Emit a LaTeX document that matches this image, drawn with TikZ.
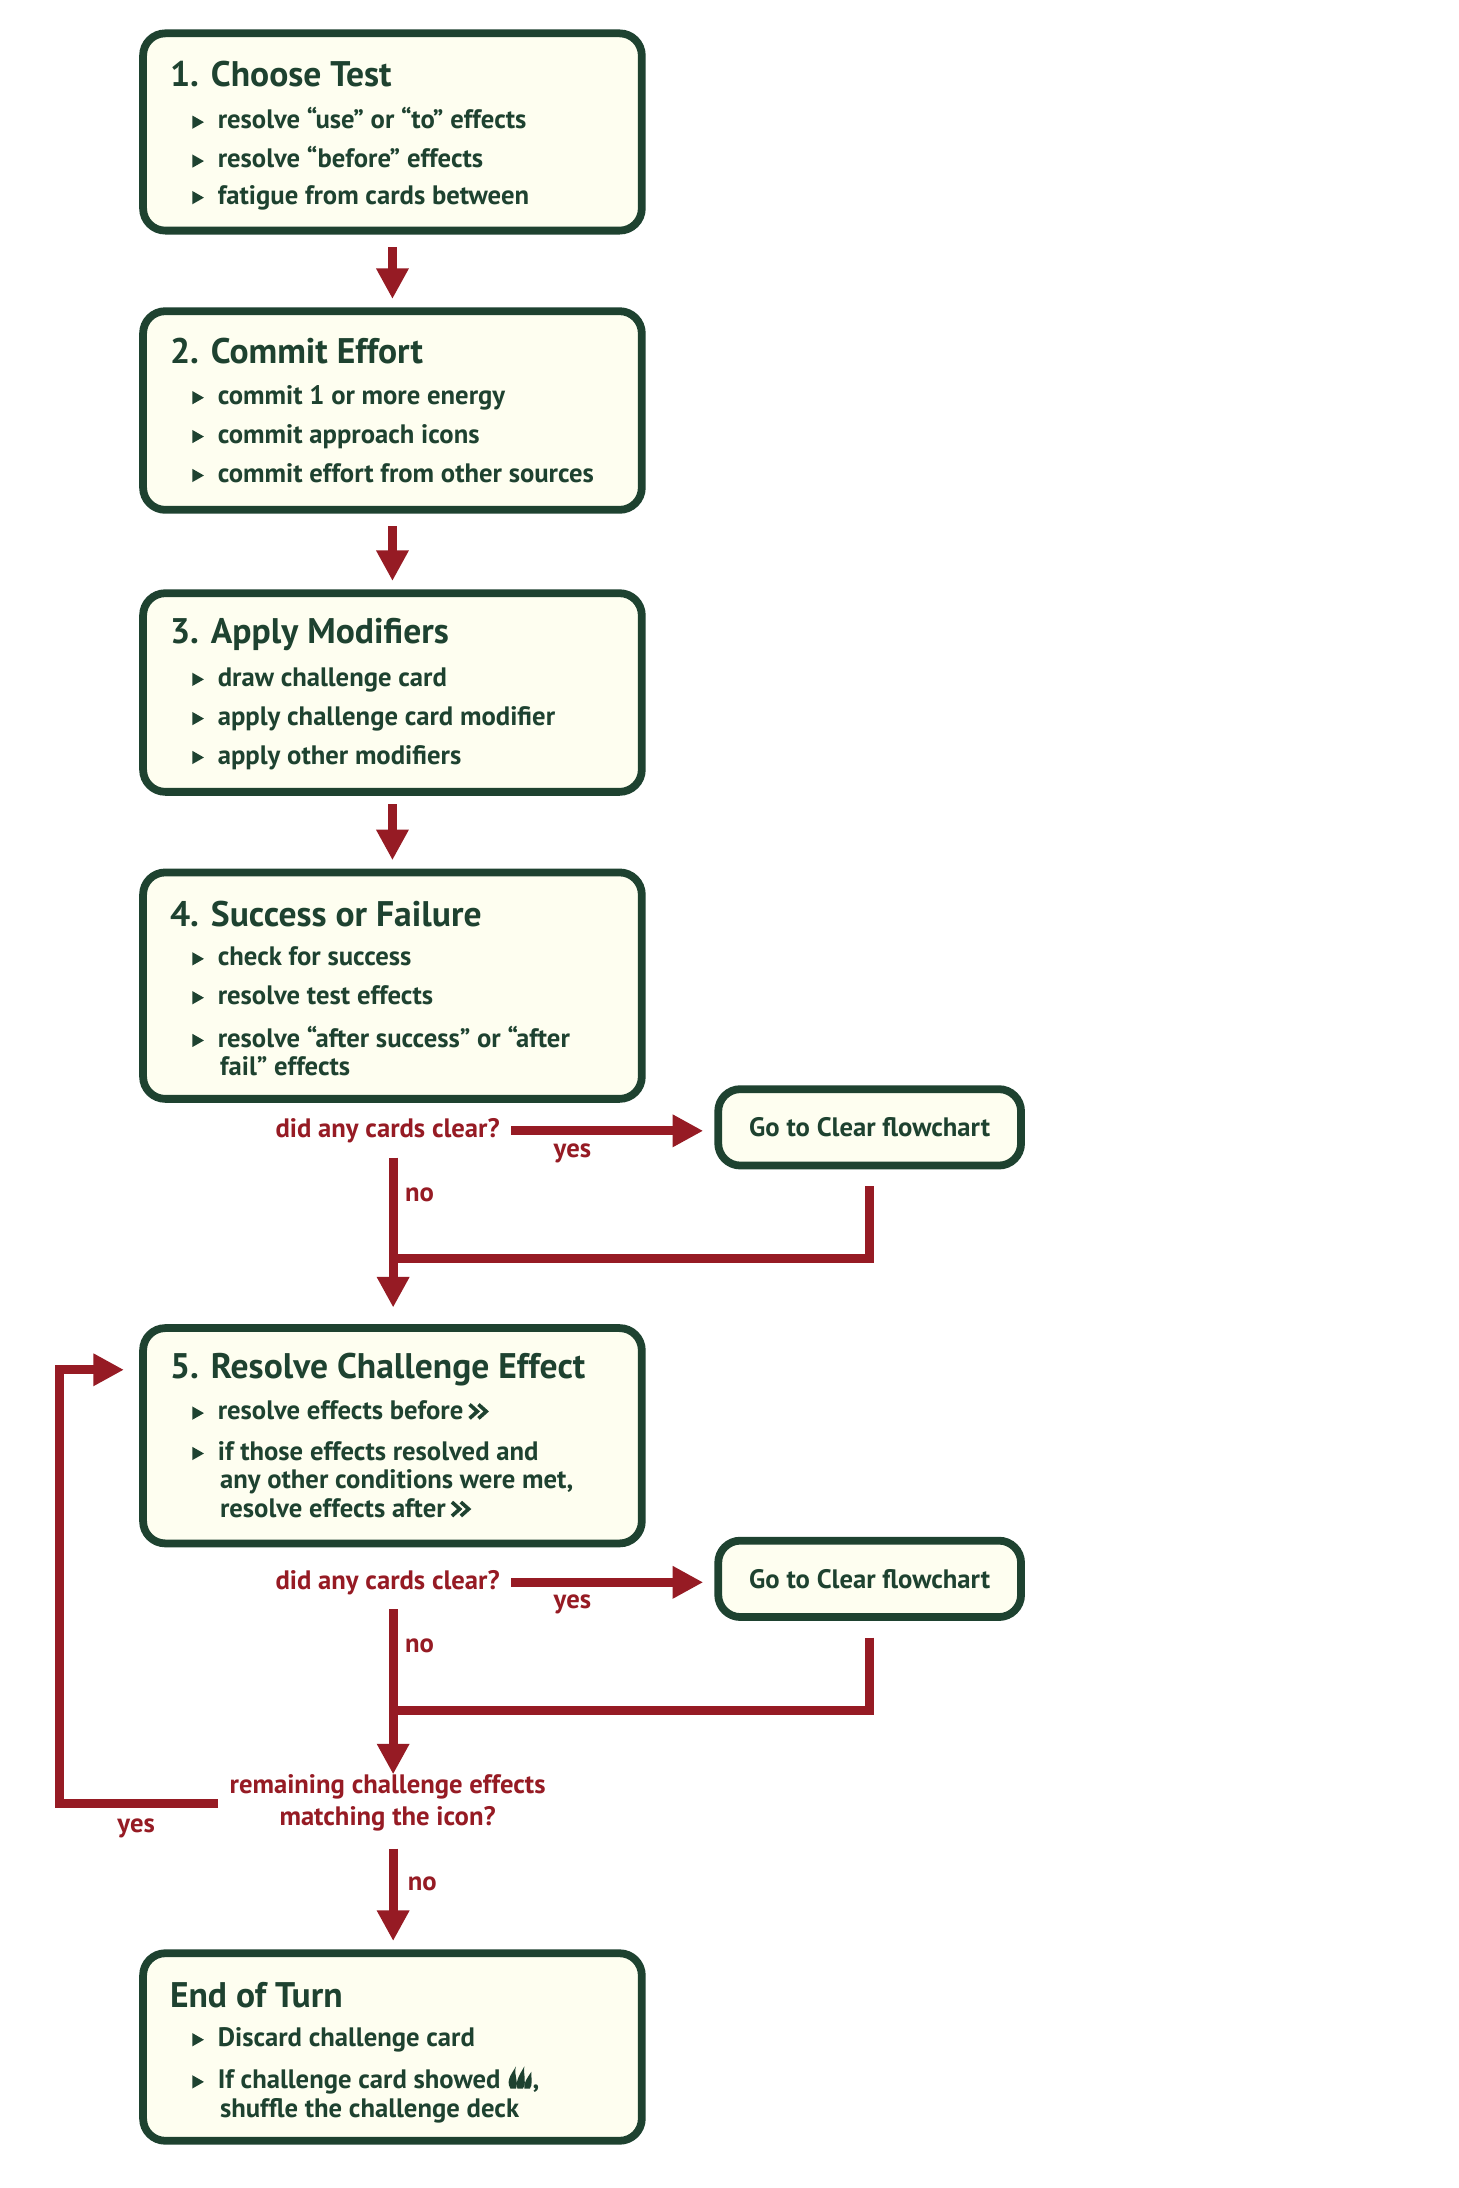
\documentclass[tikz,border=0pt]{standalone}
\usepackage{fontspec}
\setmainfont{PT Sans}
\usetikzlibrary{arrows.meta,calc}
\definecolor{dg}{HTML}{1E4230}
\definecolor{iv}{HTML}{FEFEF0}
\definecolor{rd}{HTML}{961B24}
\begin{document}
\begin{tikzpicture}[x=0.5pt,y=-0.5pt,
  box/.style={draw=dg,line width=2.8pt,fill=iv,rounded corners=8pt,inner sep=0pt},
  ttl/.style={anchor=west,text=dg,font=\fontsize{12.8}{14}\selectfont\bfseries,inner sep=0pt},
  itm/.style={anchor=north west,text=dg,font=\fontsize{9.6}{10.8}\selectfont\bfseries,inner sep=0pt,align=left},
  q/.style={text=rd,font=\fontsize{9.6}{11.5}\selectfont\bfseries,inner sep=0pt,align=center},
  lbl/.style={text=rd,font=\fontsize{9.6}{11}\selectfont\bfseries,inner sep=0pt},
  arr/.style={draw=rd,line width=3.2pt,-{Triangle[width=11pt,length=11pt]}},
  ln/.style={draw=rd,line width=3.2pt},
]
\newcommand\bl{\tikz[baseline=-2.4pt,x=1pt,y=1pt]\fill[dg](0,-2.4)--(0,2.4)--(4.2,0)--cycle;\hspace{5pt}}
\newcommand\dbl{\,\tikz[baseline=0pt,x=1pt,y=1pt]{\draw[dg,line width=1.3pt](0,0.5)--(2.8,3)--(0,5.5)(3.2,0.5)--(6,3)--(3.2,5.5);}}
\newcommand\flm{\,\tikz[baseline=0pt,x=0.5pt,y=0.5pt]{\fill[dg](0,0) .. controls (-4,6) and (2,12) .. (4,16) .. controls (2,10) and (6,6) .. (4,0)--cycle;\fill[dg](5,0) .. controls (3,6) and (8,12) .. (10,16) .. controls (9,10) and (12,5) .. (9,0)--cycle;\fill[dg](10,0) .. controls (9,4) and (13,9) .. (15,12) .. controls (15,6) and (16,3) .. (14,0)--cycle;}}
\useasboundingbox (0,0) rectangle (1050,1575);
\fill[white] (0,0) rectangle (1050,1575);
% boxes
\node[box,minimum width=179.5pt,minimum height=71pt] (b1) at (282.5,95) {};
\node[box,minimum width=179.5pt,minimum height=71.5pt] (b2) at (282.5,295.5) {};
\node[box,minimum width=179.5pt,minimum height=71.5pt] (b3) at (282.5,498.5) {};
\node[box,minimum width=179.5pt,minimum height=81.5pt] (b4) at (282.5,709.5) {};
\node[box,minimum width=179.5pt,minimum height=77.5pt] (b5) at (282.5,1033.5) {};
\node[box,minimum width=179.5pt,minimum height=67.5pt] (b6) at (282.5,1473.5) {};
\node[box,minimum width=109pt,minimum height=27.5pt] (c1) at (626,811.5) {};
\node[box,minimum width=109pt,minimum height=27.5pt] (c2) at (626,1136.5) {};
\node[itm,anchor=center] (c1t) at (c1) {Go to Clear flowchart};
\node[itm,anchor=center] (c2t) at (c2) {Go to Clear flowchart};
% texts
\node[ttl] (t1) at (122,53) {1. Choose Test};
\node[itm] (t1a) at (138,77) {\bl resolve “use” or “to” effects};
\node[itm] (t1b) at (138,105) {\bl resolve “before” effects};
\node[itm] (t1c) at (138,133) {\bl fatigue from cards between};
\node[ttl] (t2) at (122,253) {2. Commit Effort};
\node[itm] (t2a) at (138,277) {\bl commit 1 or more energy};
\node[itm] (t2b) at (138,305) {\bl commit approach icons};
\node[itm] (t2c) at (138,333) {\bl commit effort from other sources};
\node[ttl] (t3) at (122,457) {3. Apply Modifiers};
\node[itm] (t3a) at (138,480) {\bl draw challenge card};
\node[itm] (t3b) at (138,508) {\bl apply challenge card modifier};
\node[itm] (t3c) at (138,536) {\bl apply other modifiers};
\node[ttl] (t4) at (122,658) {4. Success or Failure};
\node[itm] (t4a) at (138,681) {\bl check for success};
\node[itm] (t4b) at (138,709) {\bl resolve test effects};
\node[itm] (t4c) at (138,738) {\bl resolve “after success” or “after\\[-0.5pt]\hspace{10pt}fail” effects};
\node[ttl] (t5) at (122,986) {5. Resolve Challenge Effect};
\node[itm] (t5a) at (138,1008) {\bl resolve effects before\dbl};
\node[itm] (t5b) at (138,1037) {\bl if those effects resolved and\\[-0.5pt]\hspace{10pt}any other conditions were met,\\[-0.5pt]\hspace{10pt}resolve effects after\dbl};
\node[ttl] (t6) at (122,1436) {End of Turn};
\node[itm] (t6a) at (138,1459) {\bl Discard challenge card};
\node[itm] (t6b) at (138,1487) {\bl If challenge card showed\flm,\\[-0.5pt]\hspace{10pt}shuffle the challenge deck};
% questions
\node[q] (q1) at (279,814) {did any cards clear?};
\node[q] (q2) at (279,1139) {did any cards clear?};
\node[q] (q3) at (279,1298) {remaining challenge effects\\matching the icon?};
\node[lbl] (y1) at (412,830) {yes};
\node[lbl] (y2) at (412,1155) {yes};
\node[lbl] (n1) at (302,860) {no};
\node[lbl] (n2) at (302,1185) {no};
\node[lbl] (n3) at (304,1356) {no};
\node[lbl] (y3) at (98,1316) {yes};
\coordinate (j1) at (283,906);
\coordinate (j2) at (283,1231);
\coordinate (s1) at (283,0);
% arrows
\draw[arr,shorten <=4.5pt,shorten >=3pt] (b1) -- (b2);
\draw[arr,shorten <=4.5pt,shorten >=3pt] (b2) -- (b3);
\draw[arr,shorten <=3pt,shorten >=3pt] (b3) -- (b4);
\draw[arr,shorten <=4pt,shorten >=4pt] (q1.east) -- (c1.west |- q1);
\draw[arr,shorten <=4pt,shorten >=4pt] (q2.east) -- (c2.west |- q2);
\draw[arr,shorten <=5pt,shorten >=6pt] (s1 |- q1.south) -- (s1 |- b5.north);
\draw[ln,shorten <=6pt] (c1.south) -- (c1.south |- j1) -- (j1);
\draw[arr,shorten <=5pt] (s1 |- q2.south) -- (s1 |- q3.north);
\draw[ln,shorten <=6pt] (c2.south) -- (c2.south |- j2) -- (j2);
\draw[arr,shorten <=6pt,shorten >=3pt] (s1 |- q3.south) -- (s1 |- b6.north);
\draw[arr,shorten >=5.5pt] ([xshift=-4pt]q3.west |- q3) -- (43,1298) -- (43,986) -- (b5.west |- 0,986);
\end{tikzpicture}
\end{document}
